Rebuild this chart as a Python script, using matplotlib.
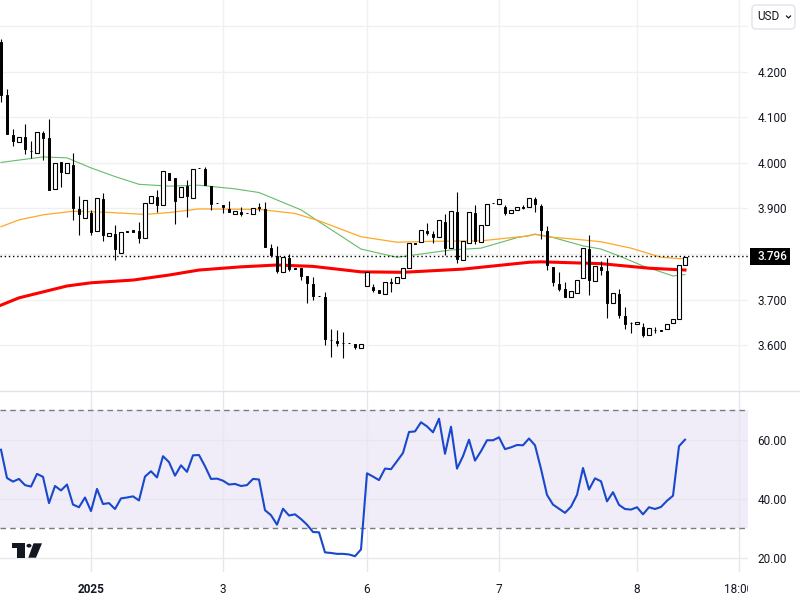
import matplotlib
matplotlib.use("Agg")
import matplotlib.pyplot as plt
from matplotlib.patches import FancyBboxPatch, Polygon, Circle, Rectangle
from matplotlib.lines import Line2D
from matplotlib.transforms import Bbox, TransformedBbox

plt.rcParams['font.family'] = ['Roboto', 'DejaVu Sans']

opens = [4.264, 4.149, 4.061, 4.046, 4.057, 4.026, 4.022, 4.066, 4.055, 3.943,
         4.002, 3.978, 3.995, 3.899, 3.880, 3.891, 3.851, 3.921, 3.840, 3.844,
         3.803, 3.851, 3.852, 3.851, 3.836, 3.913, 3.925, 3.908, 3.978, 3.967,
         3.926, 3.949, 3.924, 3.989, 3.986, 3.949, 3.912, 3.908, 3.899, 3.888,
         3.892, 3.891, 3.888, 3.904, 3.899, 3.813, 3.796, 3.760, 3.791, 3.769,
         3.769, 3.752, 3.734, 3.708, 3.706, 3.612, 3.609, 3.605, 3.605, 3.603,
         3.595, 3.729, 3.728, 3.721, 3.713, 3.738, 3.737, 3.748, 3.770, 3.825,
         3.826, 3.851, 3.844, 3.838, 3.870, 3.814, 3.892, 3.788, 3.824, 3.890,
         3.827, 3.863, 3.912, 3.909, 3.903, 3.889, 3.896, 3.903, 3.903, 3.921,
         3.905, 3.851, 3.772, 3.734, 3.723, 3.705, 3.715, 3.747, 3.811, 3.740,
         3.772, 3.763, 3.692, 3.712, 3.664, 3.649, 3.646, 3.640, 3.622, 3.634,
         3.634, 3.635, 3.648, 3.657, 3.775]
closes = [4.149, 4.063, 4.048, 4.057, 4.030, 4.025, 4.067, 4.055, 3.941, 3.999,
          3.980, 3.999, 3.901, 3.888, 3.918, 3.848, 3.922, 3.842, 3.846, 3.811,
          3.848, 3.849, 3.849, 3.835, 3.911, 3.927, 3.908, 3.982, 3.962, 3.916,
          3.948, 3.927, 3.986, 3.988, 3.951, 3.910, 3.911, 3.903, 3.892, 3.894,
          3.888, 3.890, 3.900, 3.902, 3.816, 3.798, 3.763, 3.793, 3.767, 3.768,
          3.752, 3.737, 3.708, 3.707, 3.614, 3.611, 3.605, 3.604, 3.604, 3.597,
          3.602, 3.760, 3.721, 3.715, 3.738, 3.737, 3.749, 3.769, 3.824, 3.823,
          3.852, 3.846, 3.838, 3.874, 3.813, 3.894, 3.789, 3.828, 3.892, 3.828,
          3.863, 3.910, 3.911, 3.920, 3.890, 3.896, 3.903, 3.902, 3.922, 3.910,
          3.853, 3.776, 3.739, 3.723, 3.706, 3.718, 3.743, 3.813, 3.743, 3.773,
          3.765, 3.693, 3.714, 3.667, 3.647, 3.648, 3.650, 3.623, 3.637, 3.633,
          3.632, 3.647, 3.657, 3.775, 3.794]
highs = [4.271, 4.162, 4.074, 4.057, 4.085, 4.048, 4.067, 4.070, 4.096, 3.999,
         4.002, 3.999, 4.022, 3.927, 3.918, 3.897, 3.922, 3.934, 3.846, 3.864,
         3.848, 3.851, 3.852, 3.870, 3.911, 3.927, 3.941, 3.982, 3.978, 3.967,
         3.948, 3.962, 3.986, 3.989, 3.991, 3.949, 3.912, 3.908, 3.916, 3.894,
         3.903, 3.891, 3.900, 3.912, 3.914, 3.822, 3.818, 3.793, 3.800, 3.769,
         3.769, 3.752, 3.750, 3.708, 3.717, 3.636, 3.633, 3.629, 3.605, 3.603,
         3.602, 3.760, 3.734, 3.721, 3.738, 3.748, 3.749, 3.769, 3.824, 3.825,
         3.852, 3.868, 3.851, 3.874, 3.888, 3.894, 3.936, 3.828, 3.892, 3.908,
         3.863, 3.910, 3.912, 3.920, 3.908, 3.896, 3.903, 3.908, 3.922, 3.925,
         3.910, 3.862, 3.772, 3.761, 3.739, 3.718, 3.743, 3.813, 3.842, 3.773,
         3.785, 3.791, 3.714, 3.723, 3.684, 3.651, 3.650, 3.649, 3.637, 3.640,
         3.634, 3.647, 3.657, 3.775, 3.794]
lows = [4.134, 4.063, 4.037, 4.046, 4.019, 4.011, 4.022, 4.006, 3.941, 3.943,
        3.947, 3.978, 3.875, 3.842, 3.880, 3.842, 3.851, 3.829, 3.840, 3.787,
        3.803, 3.849, 3.849, 3.824, 3.836, 3.913, 3.892, 3.908, 3.962, 3.866,
        3.926, 3.881, 3.924, 3.988, 3.951, 3.897, 3.911, 3.890, 3.892, 3.888,
        3.884, 3.890, 3.888, 3.895, 3.816, 3.793, 3.759, 3.760, 3.763, 3.768,
        3.743, 3.693, 3.699, 3.707, 3.601, 3.575, 3.598, 3.571, 3.604, 3.592,
        3.595, 3.729, 3.717, 3.715, 3.713, 3.717, 3.737, 3.748, 3.770, 3.823,
        3.826, 3.842, 3.824, 3.838, 3.798, 3.814, 3.780, 3.788, 3.824, 3.822,
        3.827, 3.863, 3.911, 3.909, 3.886, 3.889, 3.896, 3.899, 3.903, 3.892,
        3.833, 3.765, 3.730, 3.719, 3.706, 3.705, 3.715, 3.747, 3.710, 3.740,
        3.754, 3.660, 3.692, 3.660, 3.636, 3.627, 3.646, 3.618, 3.622, 3.627,
        3.632, 3.635, 3.648, 3.657, 3.775]

red_idx = [0, 3, 7, 11, 15, 22, 28, 33, 40, 46, 52, 60, 67, 77, 88, 90, 100, 108, 114]
red_ma = [3.688, 3.704, 3.717, 3.730, 3.737, 3.743, 3.754, 3.765, 3.772, 3.776,
          3.773, 3.761, 3.760, 3.767, 3.782, 3.783, 3.779, 3.769, 3.765]
green_idx = [0, 7, 11, 15, 19, 23, 28, 33, 39, 43, 50, 53, 60, 66, 75, 80, 86, 89,
             91, 97, 100, 103, 107, 112, 114]
green_ma = [4.001, 4.013, 4.011, 3.989, 3.970, 3.953, 3.949, 3.951, 3.943, 3.935,
            3.897, 3.871, 3.811, 3.793, 3.809, 3.813, 3.836, 3.843, 3.840, 3.818,
            3.811, 3.796, 3.774, 3.752, 3.755]
orange_idx = [0, 3, 7, 12, 17, 24, 28, 33, 43, 49, 53, 60, 66, 72, 80, 88, 89, 91,
              97, 100, 105, 110, 113, 114]
orange_ma = [3.860, 3.875, 3.886, 3.894, 3.892, 3.887, 3.891, 3.899, 3.898, 3.889,
             3.873, 3.838, 3.826, 3.828, 3.829, 3.840, 3.844, 3.838, 3.831, 3.827,
             3.813, 3.793, 3.790, 3.790]

rsi = [56.7, 47.1, 45.9, 46.8, 44.7, 44.2, 48.5, 47.5, 38.6, 44.4,
       42.9, 44.9, 38.1, 37.2, 40.5, 35.9, 43.4, 38.3, 38.6, 36.6,
       40.2, 40.5, 40.9, 39.5, 47.6, 49.4, 47.3, 54.5, 52.5, 47.9,
       51.4, 49.2, 54.8, 54.9, 51.1, 46.8, 46.9, 46.2, 44.9, 45.1,
       44.4, 44.7, 46.8, 46.6, 36.2, 34.5, 31.3, 36.7, 34.4, 34.8,
       33.2, 31.3, 28.8, 28.7, 21.9, 21.7, 21.4, 21.4, 21.2, 20.6,
       22.9, 48.7, 47.6, 46.4, 50.3, 50.1, 52.8, 55.6, 62.7, 62.9,
       66.0, 64.6, 62.6, 67.2, 55.3, 64.5, 50.3, 54.5, 60.1, 53.0,
       56.2, 59.9, 59.9, 60.9, 56.9, 57.5, 58.3, 58.2, 60.5, 58.2,
       50.2, 41.4, 38.1, 36.7, 35.3, 37.4, 41.4, 50.5, 43.2, 47.0,
       46.0, 39.2, 42.3, 38.0, 36.6, 36.4, 37.2, 34.8, 37.2, 36.6,
       37.3, 39.4, 41.1, 57.9, 60.1]

last_price = 3.796
price_ticks = [3.6, 3.7, 3.8, 3.9, 4.0, 4.1, 4.2, 4.3]
price_labels = ['3.600', '3.700', '', '3.900', '4.000', '4.100', '4.200', '']
rsi_ticks = [20, 40, 60]
rsi_labels = ['20.00', '40.00', '60.00']
time_ticks = [15, 37, 61, 83, 106, 123]
time_labels = ['2025', '3', '6', '7', '8', '18:00']

GRID = '#f0f0f0'
TEXT = '#131722'
W, H = 800, 600


def px_axes(x0, y0, x1, y1):
    return fig.add_axes([x0 / W, 1 - y1 / H, (x1 - x0) / W, (y1 - y0) / H])


fig = plt.figure(figsize=(8, 6), dpi=100)
ax = px_axes(0, 0, 748, 391)
ax2 = px_axes(0, 391, 748, 572)

for a in (ax, ax2):
    a.set_xlim(-1 / 6, 747 / 6)
    for s in a.spines.values():
        s.set_visible(False)
    a.set_xticks(time_ticks)
    a.grid(True, color=GRID, lw=1)
    a.set_axisbelow(True)
    a.yaxis.tick_right()
    a.tick_params(length=0, labelsize=8.5, labelcolor=TEXT, pad=7)

ax.set_ylim(3.4997, 4.3572)
ax.set_yticks(price_ticks)
ax.set_yticklabels(price_labels)
ax.tick_params(axis='x', labelbottom=False)

# moving averages sit under the candles
ax.plot(green_idx, green_ma, color='#66bb6a', lw=0.8, zorder=2)
ax.plot(orange_idx, orange_ma, color='#ffa726', lw=0.9, zorder=2)
ax.plot(red_idx, red_ma, color='#ff0000', lw=2.2, zorder=2.5)

ax.axhline(last_price, color='black', lw=1, ls=(0, (1, 2)), zorder=2.2)

for i in range(len(opens)):
    up = closes[i] > opens[i]
    ax.vlines(i, lows[i], highs[i], color='black', lw=0.8, zorder=3)
    bottom = min(opens[i], closes[i])
    height = abs(closes[i] - opens[i])
    if up:
        ax.bar(i, height, bottom=bottom, width=0.68, facecolor='white',
               edgecolor='black', lw=0.8, zorder=4)
    else:
        ax.bar(i, height, bottom=bottom, width=0.42, facecolor='black',
               edgecolor='black', lw=0.7, zorder=4)

ax2.set_ylim(15.25, 76.6)
ax2.set_yticks(rsi_ticks)
ax2.set_yticklabels(rsi_labels)
ax2.set_xticklabels(time_labels)
ax2.tick_params(axis='x', pad=8)
ax2.grid(True, color='#e8e7ee', lw=1)
ax2.axhspan(30, 70, color='#7e57c2', alpha=0.1, lw=0, zorder=0.4)
ax2.axhline(70, color='#787b86', lw=1, ls=(0, (4, 3)), zorder=1.5)
ax2.axhline(30, color='#787b86', lw=1, ls=(0, (4, 3)), zorder=1.5)
ax2.plot(range(len(rsi)), rsi, color='#1848cc', lw=1.5, zorder=3)

clip = TransformedBbox(Bbox([[0, 0], [748 / W, 1]]), fig.transFigure)
for lab in ax2.get_xticklabels():
    lab.set_clip_box(clip)
    lab.set_clip_on(True)
ax2.get_xticklabels()[0].set_fontweight('bold')


def fx(x):
    return x / W


def fy(y):
    return 1 - y / H


# pane separator
fig.add_artist(Line2D([0, 1], [fy(391), fy(391)], color='#e0e3eb', lw=1))

# last price box
fig.add_artist(Rectangle((fx(750), fy(265)), 40 / W, 17 / H, color='black', lw=0,
                         transform=fig.transFigure))
fig.text(fx(758), fy(256.5), '%.3f' % last_price, color='white', fontsize=8.5,
         va='center', ha='left', fontweight='medium')

# USD button
btn = FancyBboxPatch((752, 600 - 29), 43, 24, boxstyle='round,pad=0,rounding_size=4',
                     facecolor='white', edgecolor='#e0e3eb', lw=1,
                     transform=None)
btn.set_transform(fig.dpi_scale_trans.inverted() + fig.dpi_scale_trans)
fig.add_artist(btn)
fig.text(fx(757), fy(17), 'USD', color=TEXT, fontsize=8.5, va='center', ha='left')
fig.add_artist(Line2D([fx(786.5), fx(788.5), fx(790.5)], [fy(16), fy(18), fy(16)],
                      color=TEXT, lw=0.9))

# TradingView logo
logo = '#131722'
fig.add_artist(Polygon([(fx(x), fy(y)) for x, y in
                        [(12, 543.3), (25, 543.3), (25, 557.7), (17.3, 557.7), (17.3, 548.3), (12, 548.3)]],
                       color=logo, lw=0, transform=fig.transFigure))
fig.add_artist(Polygon([(fx(x), fy(y)) for x, y in
                        [(33.5, 543.3), (42, 543.3), (36, 557.7), (28.3, 557.7)]],
                       color=logo, lw=0, transform=fig.transFigure))
fig.add_artist(Circle((fx(29), fy(545.7)), 2.5 / W, color=logo, lw=0,
                      transform=fig.transFigure))

fig.savefig('out.png', dpi=100)
